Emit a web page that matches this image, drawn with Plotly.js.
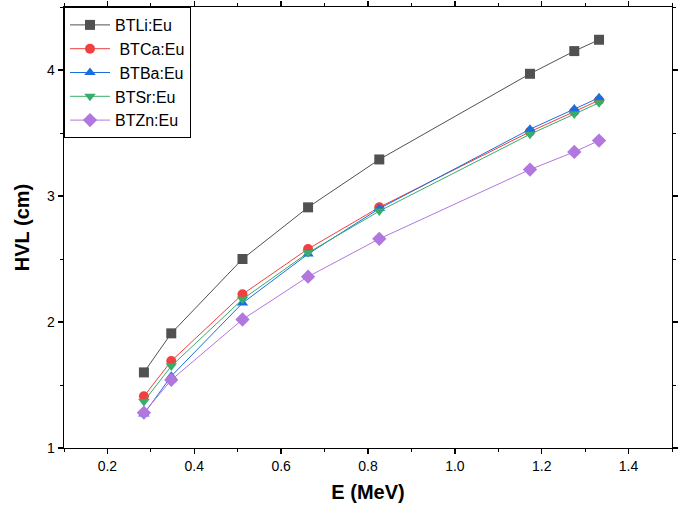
<!DOCTYPE html>
<html><head><meta charset="utf-8">
<script src="https://cdn.plot.ly/plotly-3.0.1.min.js"></script>
<style>html,body{margin:0;padding:0;background:#fff}#c{width:680px;height:511px}</style>
</head><body><div id="c"></div>
<script>
const energy = [0.284, 0.347, 0.511, 0.662, 0.826, 1.173, 1.275, 1.332];
const seriesNames = ['BTLi:Eu', ' BTCa:Eu', ' BTBa:Eu', 'BTSr:Eu', 'BTZn:Eu'];
const hvlLi = [1.60, 1.91, 2.50, 2.91, 3.29, 3.97, 4.15, 4.24];
const hvlCa = [1.41, 1.69, 2.22, 2.58, 2.91, 3.51, 3.67, 3.76];
const hvlBa = [1.27, 1.57, 2.15, 2.54, 2.90, 3.53, 3.69, 3.78];
const hvlSr = [1.37, 1.65, 2.18, 2.55, 2.88, 3.49, 3.65, 3.74];
const hvlZn = [1.28, 1.54, 2.02, 2.36, 2.66, 3.21, 3.35, 3.44];
const colors = ['#515151', '#F14040', '#1A6FDF', '#37AD6B', '#B177DE'];
const symbols = ['square', 'circle', 'triangle-up', 'triangle-down', 'diamond'];
const allY = [hvlLi, hvlCa, hvlBa, hvlSr, hvlZn];

const traces = allY.map((y, i) => ({
  x: energy, y: y, name: seriesNames[i], type: 'scatter', mode: 'lines+markers',
  line: {color: colors[i], width: 1},
  marker: {symbol: symbols[i], color: colors[i], size: i === 4 ? 11 : 10, line: {width: 0}}
}));

const axisCommon = {
  showline: true, linecolor: '#000', linewidth: 1.3, mirror: 'ticks',
  ticks: 'outside', ticklen: 5, tickwidth: 1.3, tickcolor: '#000',
  showgrid: false, zeroline: false,
  tickfont: {family: 'Liberation Sans, Arial, sans-serif', size: 14, color: '#000'}
};

const layout = {
  width: 680, height: 511,
  margin: {l: 64, r: 8, t: 7, b: 63},
  paper_bgcolor: '#fff', plot_bgcolor: '#fff',
  showlegend: true,
  legend: {
    x: 0, y: 1, xanchor: 'left', yanchor: 'top',
    bordercolor: '#000', borderwidth: 1, bgcolor: '#fff',
    font: {family: 'Liberation Sans, Arial, sans-serif', size: 16, color: '#000'},
    tracegroupgap: 0, itemwidth: 40
  },
  xaxis: Object.assign({}, axisCommon, {
    range: [0.1, 1.5], tick0: 0.2, dtick: 0.2, tickformat: '.1f',
    minor: {dtick: 0.1, tick0: 0.1, ticks: 'outside', ticklen: 3, tickcolor: '#000', tickwidth: 1},
    title: {text: '<b>E (MeV)</b>', font: {family: 'Liberation Sans, Arial, sans-serif', size: 20, color: '#000'}, standoff: 12}
  }),
  yaxis: Object.assign({}, axisCommon, {
    range: [1, 4.5], tick0: 1, dtick: 1,
    minor: {dtick: 0.5, tick0: 1, ticks: 'outside', ticklen: 3, tickcolor: '#000', tickwidth: 1},
    title: {text: '<b>HVL (cm)</b>', font: {family: 'Liberation Sans, Arial, sans-serif', size: 20, color: '#000'}, standoff: 12}
  })
};

Plotly.newPlot('c', traces, layout, {displayModeBar: false, staticPlot: true});
</script></body></html>
